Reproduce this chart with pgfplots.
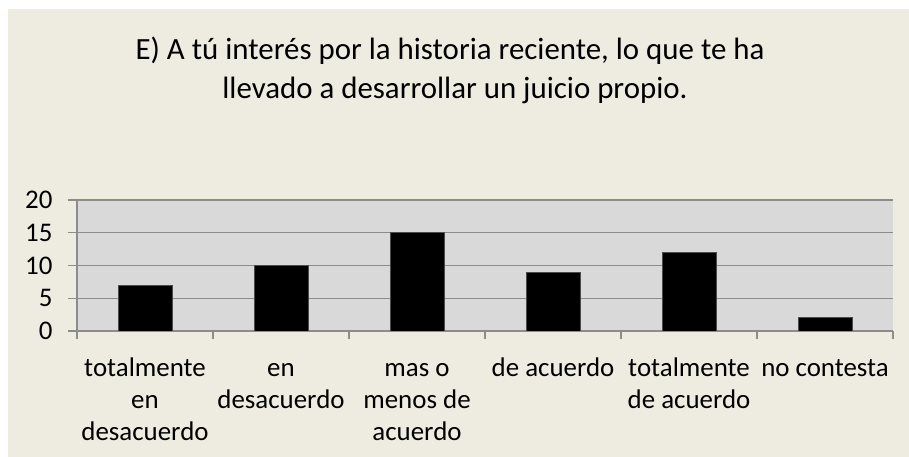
\documentclass[border=0pt]{standalone}
\usepackage{fontspec}
\setmainfont{Carlito}
\usepackage{pgfplots}
\pgfplotsset{compat=1.18}
\definecolor{bgbeige}{HTML}{EEECE1}
\definecolor{plotgray}{HTML}{D9D9D9}
\definecolor{gridgray}{HTML}{8C8C8C}
\begin{document}
\begin{tikzpicture}
\path[use as bounding box] (0,0) rectangle (909bp,457bp);
\fill[bgbeige] (8bp,0) rectangle (909bp,448bp);
\node[anchor=base, font=\fontsize{31}{37}\selectfont] at (450bp,397bp) {E) A tú interés por la historia reciente, lo que te ha};
\node[anchor=base, font=\fontsize{31}{37}\selectfont] at (455bp,358bp) {llevado a desarrollar un juicio propio.};
\begin{axis}[
    at={(77bp,126bp)}, anchor=south west,
    scale only axis,
    width=816bp, height=131bp,
    ybar, bar width=54bp,
    xmin=-0.5, xmax=5.5,
    ymin=0, ymax=20,
    ytick={0,5,...,20},
    xtick={0,...,5},
    xticklabels={{\strut totalmente\\en\\desacuerdo},{\strut en\\desacuerdo},{\strut mas o\\menos de\\acuerdo},{\strut de acuerdo},{\strut totalmente\\de acuerdo},{\strut no contesta}},
    minor xtick={-0.5,0.5,...,5.5},
    major x tick style={draw=none},
    minor tick length=8bp,
    major tick length=9bp,
    tick align=outside,
    tick pos=left,
    axis background/.style={fill=plotgray},
    axis x line*=bottom, axis y line*=left,
    axis line style={gridgray, line width=1.5pt},
    every tick/.style={gridgray, line width=1.5pt},
    ymajorgrids,
    grid style={gridgray, line width=1.5pt},
    /pgf/number format/assume math mode=true,
    yticklabel style={font=\fontsize{27}{32}\selectfont, anchor=east, xshift=-12bp},
    xticklabel style={font=\fontsize{27}{32}\selectfont, align=center, anchor=north, yshift=-11bp},
]
\addplot[fill=black, draw=black!70, line width=1pt] coordinates {
(0,7)
(1,10)
(2,15)
(3,9)
(4,12)
(5,2)
};
\end{axis}
\end{tikzpicture}
\end{document}
